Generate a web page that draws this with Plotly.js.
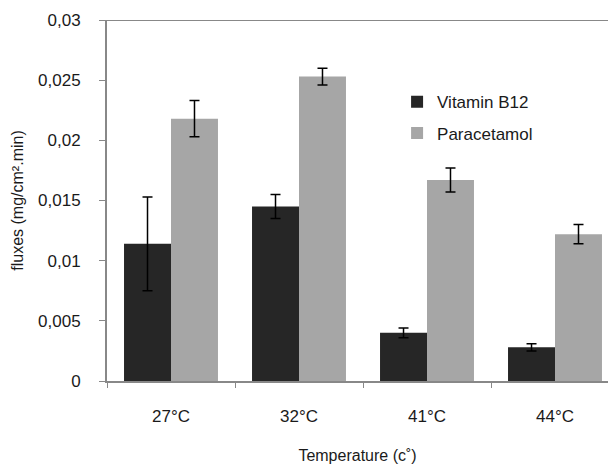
<!DOCTYPE html>
<html><head><meta charset="utf-8">
<script src="https://cdn.plot.ly/plotly-3.0.1.min.js"></script>
<style>body{margin:0;padding:0;background:#fff}#chart{width:608px;height:464px}</style>
</head><body><div id="chart"></div>
<script>
var categories = ["27°C", "32°C", "41°C", "44°C"];
var vitaminB12 = [0.0114, 0.0145, 0.0040, 0.0028];
var vitaminB12Err = [0.0039, 0.0010, 0.0004, 0.0003];
var paracetamol = [0.0218, 0.0253, 0.0167, 0.0122];
var paracetamolErr = [0.0015, 0.0007, 0.0010, 0.0008];
var yTickVals = [0, 0.005, 0.01, 0.015, 0.02, 0.025, 0.03];
var yTickText = ["0", "0,005", "0,01", "0,015", "0,02", "0,025", "0,03"];

var axisColor = "#888888";
var traces = [
  {type: "bar", name: "Vitamin B12", legendgroup: "b12", x: categories, y: vitaminB12,
   marker: {color: "#262626"},
   error_y: {type: "data", array: vitaminB12Err, visible: true, color: "#000", thickness: 1.5, width: 5}},
  {type: "bar", name: "Paracetamol", legendgroup: "para", x: categories, y: paracetamol,
   marker: {color: "#a6a6a6"},
   error_y: {type: "data", array: paracetamolErr, visible: true, color: "#000", thickness: 1.5, width: 5}}
];
var layout = {
  width: 608, height: 464,
  margin: {l: 107, r: 0, t: 20, b: 83},
  paper_bgcolor: "#fff", plot_bgcolor: "#fff",
  font: {family: "Liberation Sans, Arial, sans-serif", size: 17, color: "#1a1a1a"},
  barmode: "group", bargap: 0.266, bargroupgap: 0,
  showlegend: true,
  legend: {x: 0.579, y: 0.822, xanchor: "left", yanchor: "top", bgcolor: "rgba(0,0,0,0)",
           font: {size: 17, color: "#1a1a1a"}, traceorder: "grouped", tracegroupgap: 6},
  xaxis: {type: "category", range: [-0.5, 3.414], showline: true, linecolor: axisColor, linewidth: 2,
          ticks: "outside", tickson: "boundaries", ticklen: 5, tickcolor: axisColor, tickwidth: 1,
          ticklabelstandoff: 19,
          showgrid: false, zeroline: false,
          title: {text: "Temperature (c˚)", standoff: 26, font: {size: 16}}},
  yaxis: {range: [0, 0.03], showline: true, linecolor: axisColor, linewidth: 2,
          ticks: "outside", ticklen: 6, tickcolor: axisColor, tickwidth: 1,
          ticklabelstandoff: 15,
          tickvals: yTickVals, ticktext: yTickText,
          showgrid: false, zeroline: false,
          title: {text: "fluxes (mg/cm².min)", standoff: 10, font: {size: 16}}},
  shapes: [{type: "line", xref: "paper", yref: "y", x0: 0, x1: 1, y0: 0.03, y1: 0.03,
            line: {color: axisColor, width: 2}}]
};
Plotly.newPlot("chart", traces, layout, {displayModeBar: false, staticPlot: true});
</script></body></html>
